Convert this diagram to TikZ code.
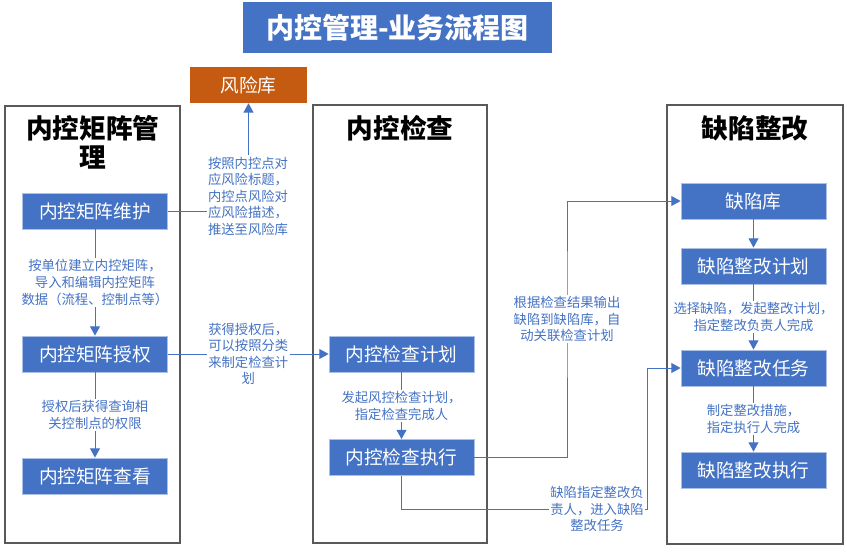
\documentclass[tikz,border=0pt]{standalone}
\usepackage{fontspec}
\setmainfont{Noto Sans CJK SC}
\usetikzlibrary{arrows.meta}
\definecolor{boxblue}{HTML}{4472C4}
\definecolor{riskorange}{HTML}{C55A11}
\definecolor{panelgray}{HTML}{595959}
\begin{document}
\begin{tikzpicture}[x=0.75pt,y=-0.75pt,
    panel/.style={draw=panelgray,line width=1.1pt},
    stepbox/.style={fill=boxblue,draw=boxblue!45,line width=0.6pt,text=white,
      minimum width=108.75pt,minimum height=27pt,inner sep=0pt,
      font=\fontsize{14}{16}\selectfont},
    lbl/.style={fill=white,text=boxblue,align=center,inner sep=1pt,
      font=\fontsize{10}{12.4}\selectfont},
    ptitle/.style={align=center,font=\bfseries\fontsize{20}{22}\selectfont},
    arr/.style={draw=boxblue,line width=0.75pt,-{Triangle[length=7pt,width=7.5pt]}}]
  \useasboundingbox (0,0) rectangle (847,553);
  % panels
  \draw[panel] (5,106) rectangle (180,543);
  \draw[panel] (313,105) rectangle (487,543);
  \draw[panel] (667,105) rectangle (843,544);
  \node[fill=boxblue,text=white,minimum width=231.75pt,minimum height=38.25pt,
    font=\bfseries\fontsize{21}{24}\selectfont] (title) at (397.5,27.5) {内控管理-业务流程图};
  \node[fill=riskorange,text=white,minimum width=87.75pt,minimum height=27pt,
    inner sep=0pt,font=\fontsize{14}{16}\selectfont] (fxk) at (248.5,85) {风险库};
  \node[ptitle] (t1) at (93,142.5) {内控矩阵管\\理};
  \node[ptitle] (t2) at (400,128) {内控检查};
  \node[ptitle] (t3) at (755,128) {缺陷整改};
  % boxes
  \node[stepbox] (wh) at (95,211) {内控矩阵维护};
  \node[stepbox] (sq) at (95,354) {内控矩阵授权};
  \node[stepbox] (ck) at (95,476) {内控矩阵查看};
  \node[stepbox] (jh) at (401.5,354) {内控检查计划};
  \node[stepbox] (zx) at (401.5,457.5) {内控检查执行};
  \node[stepbox] (qxk) at (753.5,201) {缺陷库};
  \node[stepbox] (zgjh) at (753.5,266) {缺陷整改计划};
  \node[stepbox] (zgrw) at (753.5,368) {缺陷整改任务};
  \node[stepbox] (zgzx) at (753.5,470) {缺陷整改执行};
  \begin{scope}[arr]
    \draw (wh) -- node[lbl] {按单位建立内控矩阵，\\导入和编辑内控矩阵\\数据（流程、控制点等）} (sq);
    \draw (sq) -- node[lbl] {授权后获得查询相\\关控制点的权限} (ck);
    \draw (wh.east) -| (fxk.south);
    \draw (sq.east) -- node[lbl] {获得授权后，\\可以按照分类\\来制定检查计\\划} (jh.west);
    \draw (jh) -- node[lbl] {发起风控检查计划，\\指定检查完成人} (zx);
    \draw (zx.east) -| (567,300) |- (qxk.west);
    \draw (zx.south) |- (647,509) |- (zgrw.west);
    \draw (qxk) -- (zgjh);
    \draw (zgjh) -- node[lbl] {选择缺陷，发起整改计划，\\指定整改负责人完成} (zgrw);
    \draw (zgrw) -- node[lbl] {制定整改措施，\\指定执行人完成} (zgzx);
  \end{scope}
  % labels on bent connectors
  \node[lbl] (l1) at (248,196) {按照内控点对\\应风险标题，\\内控点风险对\\应风险描述，\\推送至风险库};
  \node[lbl] (l2) at (567,319) {根据检查结果输出\\缺陷到缺陷库，自\\动关联检查计划};
  \node[lbl] (l3) at (597,509) {缺陷指定整改负\\责人，进入缺陷\\整改任务};
\end{tikzpicture}
\end{document}
